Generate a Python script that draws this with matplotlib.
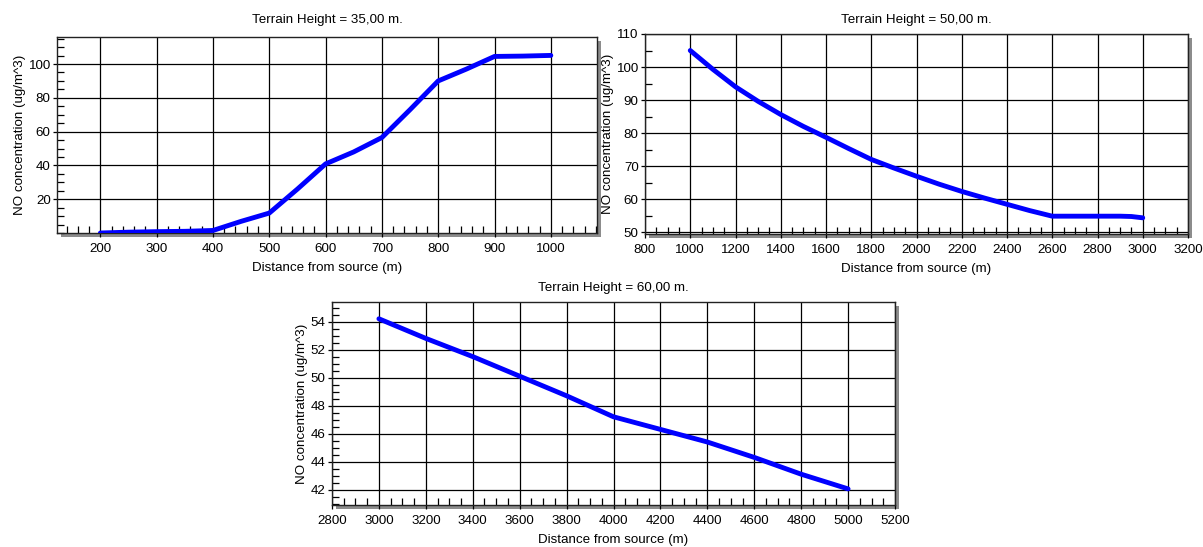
import matplotlib
matplotlib.use("Agg")
import matplotlib.pyplot as plt
from matplotlib.ticker import MultipleLocator
from matplotlib.patches import Rectangle

plt.rcParams['font.family'] = ['Liberation Sans', 'DejaVu Sans']

# ---- data ----
x1 = [200, 250, 300, 350, 400, 450, 500, 550, 600, 650, 700, 750, 800, 850, 900, 950, 1000]
y1 = [0.0, 0.5, 0.8, 1.0, 1.5, 6.9, 11.8, 26.0, 40.9, 48.0, 56.5, 73.0, 90.0, 97.0, 104.5, 104.7, 105.1]

x2 = [1000, 1100, 1200, 1300, 1400, 1500, 1600, 1700, 1800, 1900, 2000, 2100, 2200,
      2300, 2400, 2500, 2600, 2700, 2800, 2900, 2950, 3000]
y2 = [105.0, 99.3, 94.0, 89.6, 85.6, 82.0, 78.7, 75.3, 72.0, 69.4, 66.9, 64.5, 62.3,
      60.3, 58.4, 56.5, 54.8, 54.8, 54.8, 54.8, 54.7, 54.3]

x3 = [3000, 3200, 3400, 3600, 3800, 4000, 4200, 4400, 4600, 4800, 5000]
y3 = [54.2, 52.8, 51.5, 50.1, 48.7, 47.2, 46.3, 45.4, 44.3, 43.1, 42.05]

titles = ["Terrain Height = 35,00 m.", "Terrain Height = 50,00 m.", "Terrain Height = 60,00 m."]
xlabel = "Distance from source (m)"
ylabel = "NO concentration (ug/m^3)"

W, H = 1203, 547
fig = plt.figure(figsize=(W / 100, H / 100), dpi=100)

def box(l, t, r, b):
    return [l / W, 1 - b / H, (r - l) / W, (b - t) / H]

specs = [
    dict(rect=box(57, 37, 597, 233), x=x1, y=y1, xlim=(123, 1082), ylim=(0, 116),
         xmin=20, ymin=5, yticks=[20, 40, 60, 80, 100], xticks=range(200, 1001, 100), tpad=10),
    dict(rect=box(645, 34, 1188, 234), x=x2, y=y2, xlim=(800, 3200), ylim=(49.4, 110),
         xmin=50, ymin=5, yticks=range(50, 111, 10), xticks=range(800, 3201, 200), tpad=8),
    dict(rect=box(332, 302, 895, 505), x=x3, y=y3, xlim=(2800, 5200), ylim=(40.9, 55.4),
         xmin=50, ymin=0.5, yticks=range(42, 55, 2), xticks=range(2800, 5201, 200), tpad=8),
]

FS = 9.6

for s, title in zip(specs, titles):
    l, b, w, h = s['rect']
    dx, dy = 4 / W, 4 / H
    fig.patches.append(Rectangle((l + dx, b - dy), w, h, transform=fig.transFigure,
                                 facecolor='#8c8c8c', edgecolor='none', zorder=0))
    ax = fig.add_axes(s['rect'], zorder=1)
    ax.set_facecolor('white')
    ax.plot(s['x'], s['y'], color='#0000ff', lw=3.5, solid_capstyle='round', zorder=3)
    ax.set_xlim(*s['xlim'])
    ax.set_ylim(*s['ylim'])
    ax.set_xticks(list(s['xticks']))
    ax.set_yticks(list(s['yticks']))
    ax.xaxis.set_minor_locator(MultipleLocator(s['xmin']))
    ax.yaxis.set_minor_locator(MultipleLocator(s['ymin']))
    ax.grid(True, which='major', color='black', lw=0.9)
    ax.set_axisbelow(True)
    ax.tick_params(which='major', direction='out', length=3, width=0.9, labelsize=FS,
                   colors='black')
    ax.tick_params(axis='x', which='major', pad=4)
    ax.tick_params(axis='y', which='major', pad=1.5)
    ax.tick_params(which='minor', direction='in', length=5, width=0.9)
    for sp in ax.spines.values():
        sp.set_linewidth(1.0)
        sp.set_color('#222222')
    ax.set_title(title, fontsize=FS, pad=s['tpad'])
    ax.set_xlabel(xlabel, fontsize=FS, labelpad=5)
    ax.set_ylabel(ylabel, fontsize=FS, labelpad=2)

fig.savefig("out.png", dpi=100)
